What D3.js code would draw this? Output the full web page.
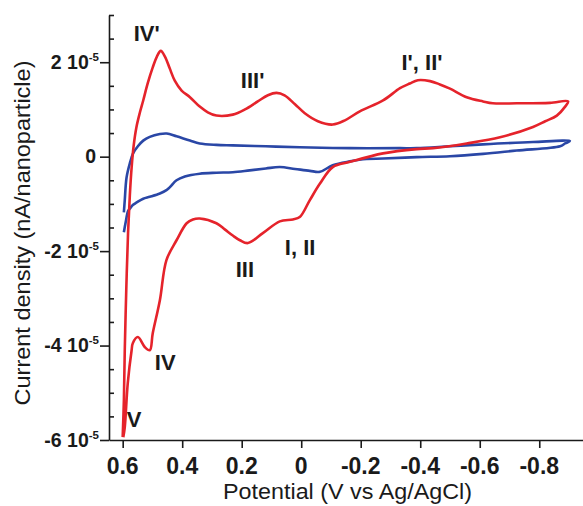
<!DOCTYPE html>
<html><head><meta charset="utf-8">
<script src="https://cdn.jsdelivr.net/npm/d3@7"></script>
<style>body{margin:0;background:#fff} svg{display:block}</style>
</head><body><svg id="c" width="583" height="506"></svg>
<script>
// Potential in V vs Ag/AgCl, current density in units of 1e-5 nA/nanoparticle
const redPotential = [0.600,0.596,0.593,0.588,0.582,0.576,0.570,0.563,0.554,0.542,0.531,0.516,0.499,0.485,0.472,0.458,0.442,0.425,0.402,0.374,0.341,0.314,0.285,0.230,0.189,0.146,0.112,0.083,0.056,0.021,-0.012,-0.056,-0.106,-0.147,-0.197,-0.275,-0.332,-0.365,-0.392,-0.433,-0.466,-0.500,-0.556,-0.611,-0.644,-0.725,-0.836,-0.897,
  -0.887,-0.859,-0.820,-0.779,-0.668,-0.556,-0.443,-0.388,-0.275,-0.164,-0.106,-0.063,-0.029,0.005,0.028,0.072,0.129,0.179,0.206,0.230,0.257,0.285,0.341,0.364,0.385,0.419,0.453,0.475,0.499,0.509,0.526,0.549,0.566,0.570,0.583,0.593,0.598];
const redCurrent = [-5.94,-5.16,-4.10,-2.83,-1.62,-0.82,-0.23,0.24,0.62,0.94,1.19,1.55,1.89,2.12,2.24,2.12,1.87,1.61,1.40,1.26,1.06,0.94,0.87,0.89,1.00,1.17,1.30,1.35,1.30,1.11,0.92,0.75,0.68,0.77,0.96,1.19,1.45,1.55,1.62,1.60,1.53,1.44,1.26,1.17,1.13,1.13,1.14,1.17,
  1.06,0.87,0.75,0.63,0.41,0.28,0.18,0.16,0.07,-0.11,-0.22,-0.57,-0.92,-1.28,-1.33,-1.37,-1.62,-1.83,-1.77,-1.67,-1.54,-1.41,-1.31,-1.33,-1.41,-1.77,-2.19,-3.04,-3.74,-4.10,-4.03,-3.82,-3.95,-4.10,-4.80,-5.73,-5.94];
const bluePotential = [0.596,0.593,0.587,0.576,0.565,0.549,0.531,0.509,0.475,0.452,0.419,0.374,0.341,0.285,0.230,0.119,0.005,-0.164,-0.332,-0.388,-0.500,-0.611,-0.779,-0.903,
  -0.887,-0.870,-0.724,-0.611,-0.500,-0.388,-0.275,-0.220,-0.164,-0.106,-0.063,-0.029,0.021,0.072,0.119,0.173,0.230,0.285,0.341,0.391,0.419,0.442,0.453,0.475,0.509,0.531,0.553,0.565,0.576,0.582,0.590,0.596];
const blueCurrent = [-1.18,-0.92,-0.44,-0.14,0.07,0.22,0.34,0.42,0.48,0.49,0.43,0.34,0.28,0.25,0.24,0.22,0.20,0.18,0.18,0.18,0.22,0.26,0.31,0.33,
  0.28,0.22,0.13,0.06,0.01,-0.01,-0.04,-0.05,-0.10,-0.18,-0.32,-0.30,-0.26,-0.22,-0.25,-0.29,-0.33,-0.34,-0.36,-0.42,-0.50,-0.65,-0.71,-0.78,-0.85,-0.89,-0.97,-1.02,-1.10,-1.15,-1.39,-1.60];
const xTicks = [0.6,0.4,0.2,0,-0.2,-0.4,-0.6,-0.8];
const xTickLabels = ["0.6","0.4","0.2","0","-0.2","-0.4","-0.6","-0.8"];
const yTicks = [2,0,-2,-4,-6];
const yTickMantissa = ["2 10","0","-2 10","-4 10","-6 10"];
const yTickExponent = ["-5","","-5","-5","-5"];
const yMinorTicks = [-5.5,-5,-4.5,-3.5,-3,-2.5,-1.5,-1,-0.5,0.5,1,1.5,2.5,3];
const peakLabels = ["IV'","III'","I', II'","III","I, II","IV","V"];
const peakPotential = [0.563,0.203,-0.337,0.220,0.055,0.492,0.586];
const peakCurrent = [2.46,1.445,1.83,-2.55,-2.09,-4.52,-5.73];
const xTitle = "Potential (V vs Ag/AgCl)";
const yTitle = "Current density (nA/nanoparticle)";

const svg = d3.select("#c");
const FONT = "'Liberation Sans', Arial, Helvetica, sans-serif";
const x = d3.scaleLinear().domain([0.646,-0.947]).range([109,583]);
const y = d3.scaleLinear().domain([-6,3]).range([440,15]);
const ink = "#1a1a1a";

// x axis
const gx = svg.append("g").attr("transform","translate(0,440)")
  .call(d3.axisBottom(x).tickValues(xTicks).tickSize(8).tickSizeOuter(0).tickFormat(""));
// y axis major (outward)
const gy = svg.append("g").attr("transform","translate(109,0)")
  .call(d3.axisLeft(y).tickValues(yTicks).tickSize(9).tickSizeOuter(0).tickFormat(""));
// y axis minor (inward)
const gym = svg.append("g").attr("transform","translate(109,0)")
  .call(d3.axisRight(y).tickValues(yMinorTicks).tickSize(5).tickSizeOuter(0).tickFormat(""));
gym.select(".domain").remove();
[gx,gy,gym].forEach(g=>{
  g.selectAll("path,line").attr("stroke",ink).attr("stroke-width",1.6);
});

// x tick labels
svg.append("g").selectAll("text").data(xTicks).join("text")
  .attr("x",d=>x(d)).attr("y",474)
  .attr("text-anchor","middle")
  .attr("font-family",FONT).attr("font-weight","bold").attr("font-size",23).attr("fill",ink)
  .text((d,i)=>xTickLabels[i]);

// y tick labels
const yl = svg.append("g").selectAll("text").data(yTicks).join("text")
  .attr("x",(d,i)=>yTickExponent[i] ? 99 : 96).attr("y",d=>y(d)+6.5)
  .attr("text-anchor","end")
  .attr("font-family",FONT).attr("font-weight","bold").attr("font-size",19.5).attr("fill",ink);
yl.append("tspan").text((d,i)=>yTickMantissa[i]);
yl.append("tspan").attr("dy",-8).attr("font-size",11.5).text((d,i)=>yTickExponent[i]);

// curves
const line = d3.line().x(d=>x(d[0])).y(d=>y(d[1])).curve(d3.curveCatmullRom.alpha(0.5));
svg.append("path").datum(bluePotential.map((v,i)=>[v,blueCurrent[i]]))
  .attr("d",line).attr("fill","none").attr("stroke","#2a47a6").attr("stroke-width",2.6).attr("stroke-linejoin","round");
svg.append("path").datum(redPotential.map((v,i)=>[v,redCurrent[i]]))
  .attr("d",line).attr("fill","none").attr("stroke","#e5232b").attr("stroke-width",2.6).attr("stroke-linejoin","round");

// peak labels
svg.append("g").selectAll("text").data(peakLabels).join("text")
  .attr("x",(d,i)=>x(peakPotential[i])).attr("y",(d,i)=>y(peakCurrent[i]))
  .attr("font-family",FONT).attr("font-weight","bold").attr("font-size",22).attr("fill",ink)
  .text(d=>d);

// axis titles
svg.append("text").attr("x",347.5).attr("y",499).attr("text-anchor","middle")
  .attr("font-family",FONT).attr("font-size",21.5).attr("fill",ink)
  .attr("textLength",249).attr("lengthAdjust","spacingAndGlyphs").text(xTitle);
svg.append("text").attr("transform","translate(30,233) rotate(-90)").attr("text-anchor","middle")
  .attr("font-family",FONT).attr("font-size",21.5).attr("fill",ink)
  .attr("textLength",345).attr("lengthAdjust","spacingAndGlyphs").text(yTitle);
</script></body></html>
